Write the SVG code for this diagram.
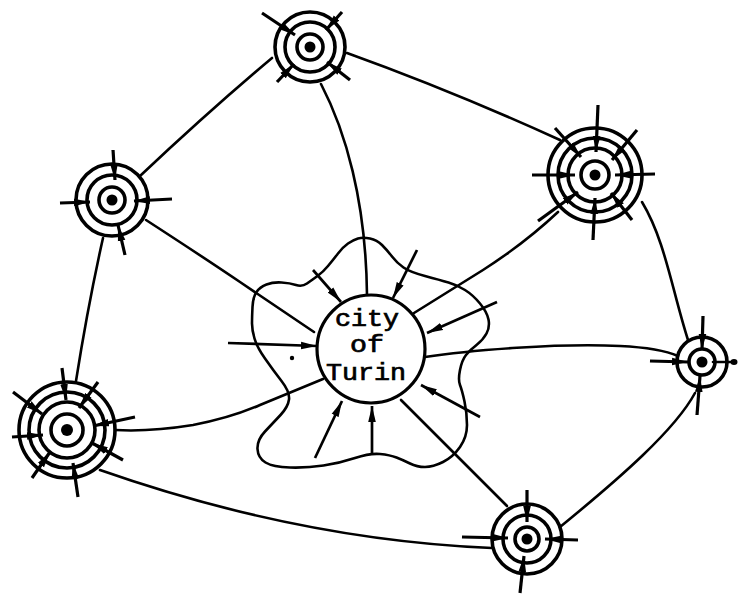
<svg xmlns="http://www.w3.org/2000/svg" width="738" height="597" viewBox="0 0 738 597">
<defs>
<style>
.ln{fill:none;stroke:#000;stroke-width:2.6;stroke-linecap:round;stroke-linejoin:round}
.ring{fill:none;stroke:#000;stroke-width:3.6}
.dot{fill:#000}
.sp{fill:none;stroke:#000;stroke-width:3.2;stroke-linecap:butt;marker-end:url(#ah)}
.ar{fill:none;stroke:#000;stroke-width:2.7;stroke-linecap:butt;marker-end:url(#ah)}
.txt{font-family:"Liberation Mono","Courier New",monospace;font-size:23px;text-anchor:middle;fill:#000;stroke:#000;stroke-width:0.7}
</style>
<marker id="ah" viewBox="0 0 16 9" refX="16" refY="4.5" markerWidth="16" markerHeight="9" markerUnits="userSpaceOnUse" orient="auto">
<path d="M0,0.7 L16,4.5 L0,8.3 Z" fill="#000"/>
</marker>
</defs>
<rect width="738" height="597" fill="#fff"/>

<g id="connectors">
<path class="ln" d="M272,58 Q210,110 140,176"/>
<path class="ln" d="M347,53 Q450,90 560,140"/>
<path class="ln" d="M321,84 C345,130 366,200 367,295"/>
<path class="ln" d="M146,220 Q200,255 240,282 L314,332"/>
<path class="ln" d="M103,238 Q88,305 76,381"/>
<path class="ln" d="M558,212 Q525,243 483,270 L414,313"/>
<path class="ln" d="M642,202 C665,240 672,290 688,340"/>
<path class="ln" d="M425,357 C470,350 560,343 620,346 Q660,348 678,356"/>
<path class="ln" d="M695,393 C675,430 620,478 560,527"/>
<path class="ln" d="M401,400 L507,506"/>
<path class="ln" d="M100,470 Q300,540 492,548"/>
<path class="ln" d="M115,430 Q150,432 193,425 Q230,418 260,405 L323,379"/>
<path class="ar" d="M313,270 L341,302"/>
<path class="ar" d="M417,250 L393,298"/>
<path class="ar" d="M497,302 L427,333"/>
<path class="ar" d="M228,343 L317,346"/>
<path class="ar" d="M480,417 L421,385"/>
<path class="ar" d="M372,453 L372,406"/>
<path class="ar" d="M315,458 L342,401"/>
</g>

<g id="city">
<path class="ln" d="M370,238.5 Q377,240 382,245 Q387,250 392,256.5 Q397,263 403.5,267.5 Q410,272 425,276 Q440,280 448.5,282.5 Q457,285 465,290 Q473,295 480,303.5 Q487,312 488.5,319.5 Q490,327 486.5,333.5 Q483,340 476.5,345 Q470,350 466,355 Q462,360 460,370 Q458,380 460,385 Q462,390 464.5,401.5 Q467,413 467,425 Q467,437 460,447 Q453,457 443,462 Q433,467 425,467 Q417,467 410,463.5 Q403,460 396.5,457.5 Q390,455 380,454 Q370,453 355,458 Q340,463 323.5,465.5 Q307,468 290,467.5 Q273,467 265.5,462.5 Q258,458 257.5,449 Q257,440 265,431.5 Q273,423 280.5,415 Q288,407 289,399.5 Q290,392 281.5,381 Q273,370 265,358.5 Q257,347 254.5,338.5 Q252,330 252,323.5 Q252,317 252.5,307 Q253,297 256.5,292 Q260,287 266.5,284.5 Q273,282 281.5,282.5 Q290,283 296,285 Q302,287 307,283.5 Q312,280 317.5,276 Q323,272 328,266 Q333,260 338,253.5 Q343,247 348,243.5 Q353,240 358,238.5 Q363,237 370,238.5 Z"/>
<circle cx="371" cy="349" r="54" fill="#fff" stroke="#000" stroke-width="3.2"/>
<text class="txt" x="367" y="326" textLength="64" lengthAdjust="spacingAndGlyphs">city</text>
<text class="txt" x="367" y="352" textLength="34" lengthAdjust="spacingAndGlyphs">of</text>
<text class="txt" x="366" y="380" textLength="80" lengthAdjust="spacingAndGlyphs">Turin</text>
<circle class="dot" cx="292" cy="358" r="2.2"/>
</g>

<g id="n1">
<circle class="ring" cx="310" cy="47" r="35"/>
<circle class="ring" cx="310" cy="47" r="25"/>
<circle class="ring" cx="310" cy="47" r="13"/>
<circle class="dot" cx="310" cy="47" r="5.5"/>
<path class="sp" d="M262,13 L295,35"/>
<path class="sp" d="M342,12 L326,30"/>
<path class="sp" d="M277,82 L294,64"/>
<path class="sp" d="M350,80 L327,62"/>
</g>

<g id="n2">
<circle class="ring" cx="112" cy="200" r="36"/>
<circle class="ring" cx="112" cy="200" r="25"/>
<circle class="ring" cx="112" cy="200" r="13"/>
<circle class="dot" cx="112" cy="200" r="5.5"/>
<path class="sp" d="M113,150 L115,180"/>
<path class="sp" d="M60,203 L90,202"/>
<path class="sp" d="M172,199 L134,201"/>
<path class="sp" d="M125,255 L118,225"/>
</g>

<g id="n3">
<circle class="ring" cx="595" cy="175" r="47"/>
<circle class="ring" cx="595" cy="175" r="37"/>
<circle class="ring" cx="595" cy="175" r="27"/>
<circle class="ring" cx="595" cy="175" r="14"/>
<circle class="dot" cx="595" cy="175" r="5.5"/>
<path class="sp" d="M598,105 L596,152"/>
<path class="sp" d="M593,240 L595,198"/>
<path class="sp" d="M532,175 L575,175"/>
<path class="sp" d="M655,174 L615,175"/>
<path class="sp" d="M555,128 L581,157"/>
<path class="sp" d="M637,130 L612,160"/>
<path class="sp" d="M538,221 L578,192"/>
<path class="sp" d="M632,220 L611,193"/>
</g>

<g id="n4">
<circle class="ring" cx="67" cy="430" r="48"/>
<circle class="ring" cx="67" cy="430" r="38"/>
<circle class="ring" cx="67" cy="430" r="28"/>
<circle class="ring" cx="67" cy="430" r="16"/>
<circle class="dot" cx="67" cy="430" r="6"/>
<path class="sp" d="M62,368 L66,400"/>
<path class="sp" d="M13,392 L42,414"/>
<path class="sp" d="M98,382 L79,408"/>
<path class="sp" d="M135,417 L93,426"/>
<path class="sp" d="M12,437 L43,435"/>
<path class="sp" d="M32,478 L50,452"/>
<path class="sp" d="M78,497 L73,463"/>
<path class="sp" d="M123,460 L92,443"/>
</g>

<g id="n5">
<circle class="ring" cx="702" cy="362" r="25"/>
<circle class="ring" cx="702" cy="362" r="13"/>
<circle class="dot" cx="702" cy="362" r="5.5"/>
<path class="sp" d="M703,316 L702,350"/>
<path class="sp" d="M650,361 L688,362"/>
<path class="sp" d="M697,415 L700,376"/>
<path class="ln" d="M713,362 L734,362" stroke-width="3"/>
<ellipse class="dot" cx="734" cy="362" rx="3.5" ry="3"/>
</g>

<g id="n6">
<circle class="ring" cx="527" cy="539" r="35"/>
<circle class="ring" cx="527" cy="539" r="24"/>
<circle class="ring" cx="527" cy="539" r="12"/>
<circle class="dot" cx="527" cy="539" r="5.5"/>
<path class="sp" d="M527,490 L527,522"/>
<path class="sp" d="M462,537 L508,538"/>
<path class="sp" d="M578,540 L545,539"/>
<path class="sp" d="M520,593 L524,556"/>
</g>
</svg>
